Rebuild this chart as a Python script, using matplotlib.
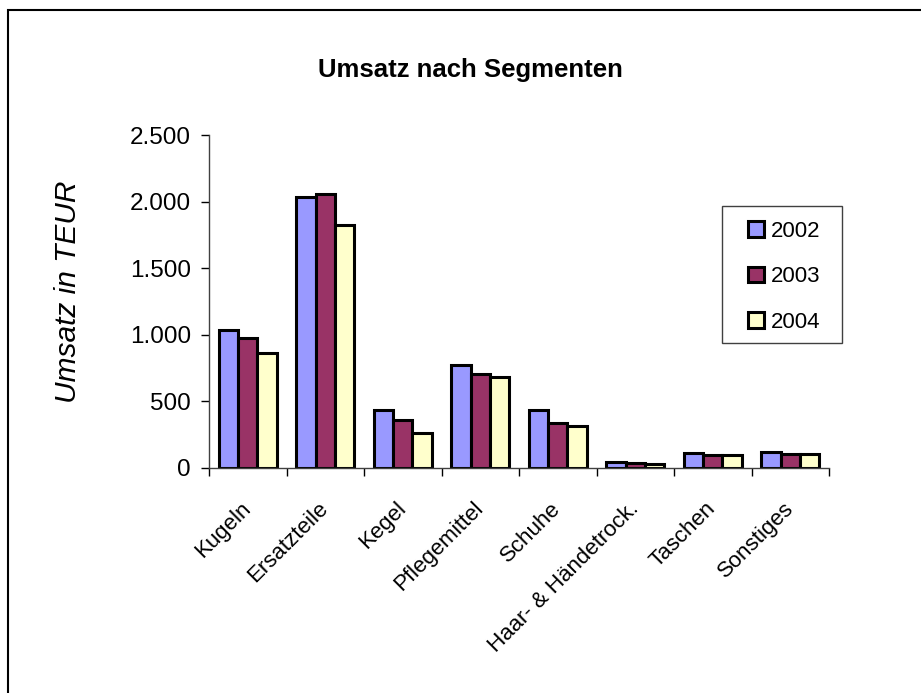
import numpy as np
import matplotlib
matplotlib.use('Agg')
import matplotlib.pyplot as plt
from matplotlib.patches import Rectangle
from matplotlib.ticker import FuncFormatter

plt.rcParams['font.family'] = ['Liberation Sans', 'DejaVu Sans']

categories = ["Kugeln", "Ersatzteile", "Kegel", "Pflegemittel", "Schuhe",
              "Haar- & Händetrock.", "Taschen", "Sonstiges"]
years = ["2002", "2003", "2004"]
umsatz_2002 = [1037, 2035, 437, 777, 435, 45, 112, 122]
umsatz_2003 = [975, 2057, 362, 705, 337, 37, 100, 105]
umsatz_2004 = [867, 1822, 260, 682, 317, 32, 97, 105]
y_ticks = [0, 500, 1000, 1500, 2000, 2500]

colours = ["#9999FF", "#993366", "#FFFFCC"]

W, H = 921, 693
fig = plt.figure(figsize=(W / 100, H / 100), dpi=100)

# outer chart border (right/bottom edges fall outside the image)
fig.patches.append(Rectangle((8 / W, 0 - 0.05), 1.2, 1 - 10 / H + 0.05,
                             transform=fig.transFigure, fill=False,
                             edgecolor="black", linewidth=1.5))

ax = fig.add_axes([209 / W, (H - 468) / H, 620 / W, 333 / H])

x = np.arange(len(categories))
bw = 0.25
for i, (vals, year) in enumerate(zip([umsatz_2002, umsatz_2003, umsatz_2004], years)):
    ax.bar(x + (i - 1) * bw, vals, bw, color=colours[i], edgecolor="black",
           linewidth=2.2, label=year)

ax.set_xlim(-0.5, len(categories) - 0.5)
ax.set_ylim(0, 2500)
ax.set_yticks(y_ticks)
ax.yaxis.set_major_formatter(FuncFormatter(lambda v, p: f"{int(v):,}".replace(",", ".")))
ax.tick_params(axis="y", direction="out", length=6, width=1, labelsize=17.5, pad=7)

ax.set_xticks(x)
ax.set_xticklabels(categories, rotation=45, ha="right", va="center",
                   rotation_mode="anchor", fontsize=16)
ax.tick_params(axis="x", which="major", length=0, pad=27)
ax.set_xticks(np.arange(-0.5, len(categories)), minor=True)
ax.tick_params(axis="x", which="minor", direction="out", length=6, width=1)

for s in ["top", "right"]:
    ax.spines[s].set_visible(False)
for s in ["left", "bottom"]:
    ax.spines[s].set_color("#404040")
    ax.spines[s].set_linewidth(1)

fig.text(470 / W, 1 - 70 / H, "Umsatz nach Segmenten", ha="center", va="center",
         fontsize=18.5, fontweight="bold")
fig.text(68 / W, 1 - 292 / H, "Umsatz in TEUR", ha="center", va="center",
         rotation=90, fontsize=21.5, style="italic")

# legend box drawn separately so its padding matches the original
fig.patches.append(Rectangle((722 / W, 1 - 343 / H), 120 / W, 137 / H,
                             transform=fig.transFigure, fill=False,
                             edgecolor="#404040", linewidth=1))
leg = fig.legend(loc="upper left", bbox_to_anchor=(748 / W, 1 - 221 / H),
                 fontsize=16, frameon=False, handlelength=0.7,
                 handleheight=0.7, handletextpad=0.35, labelspacing=1.1,
                 borderpad=0, borderaxespad=0)
for h in leg.legend_handles:
    h.set_linewidth(2.2)

plt.savefig("out.png", dpi=100)
plt.close()
